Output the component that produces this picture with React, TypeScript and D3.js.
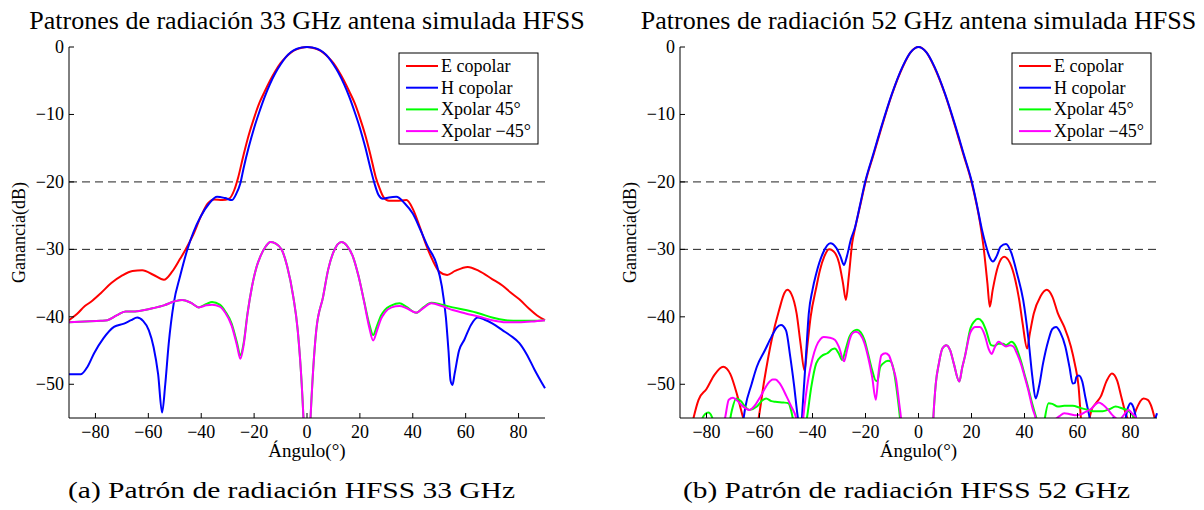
import React from 'react';
import * as d3 from 'd3';

type Pt = [number, number];

const SERIES_NAMES = ['E copolar', 'H copolar', 'Xpolar 45°', 'Xpolar \u221245°'];
const SERIES_COLORS = ['#ff0000', '#0000ff', '#00ff00', '#ff00ff'];
const X_TICKS = [-80, -60, -40, -20, 0, 20, 40, 60, 80];
const Y_TICKS = [0, -10, -20, -30, -40, -50];
const REF_LINES = [-20, -30];

// ---- 33 GHz ----
const E33: Pt[] = [[-90,-40.5],[-87,-39.6],[-84,-38.4],[-81.8,-37.8],[-78,-36.5],[-74,-35],[-70,-33.9],[-66,-33.2],[-62.3,-33.1],[-58,-33.8],[-54.1,-34.5],[-51,-33.3],[-48,-31.4],[-46,-30.1],[-43,-27.8],[-40,-25.0],[-37.5,-23.2],[-35,-22.6],[-32,-22.7],[-29.5,-22.5],[-27.5,-21.2],[-26,-19.3],[-24,-16.0],[-22,-13.0],[-20,-10.5],[-18,-8.3],[-16,-6.6],[-14,-5.0],[-12,-3.6],[-10,-2.4],[-8,-1.5],[-6,-0.8],[-4,-0.35],[-2,-0.1],[0,0],[2,-0.1],[4,-0.35],[6,-0.8],[8,-1.5],[10,-2.4],[12,-3.6],[14,-5.0],[16,-6.6],[18,-8.3],[20,-10.5],[22,-13.0],[24,-16.0],[26,-19.3],[27.5,-21.0],[29,-22.3],[31,-22.8],[34,-22.8],[37.6,-22.7],[40,-24],[42.5,-26.5],[45,-29.3],[47.5,-31.6],[50,-33.3],[53,-33.8],[56,-33.2],[60.8,-32.6],[65,-33.2],[70,-34.4],[74,-35.4],[77,-36.4],[80.3,-37.4],[84,-38.8],[87,-39.8],[90,-40.5]];
const H33: Pt[] = [[-90,-48.5],[-85.5,-48.5],[-83,-47.4],[-80.5,-45.4],[-77,-43.2],[-73,-41.5],[-69.2,-41],[-66.5,-40.5],[-64.2,-40.1],[-62,-40.6],[-59.8,-42],[-58,-44.5],[-56.3,-48.5],[-54.8,-54.2],[-53.6,-50],[-52.3,-44],[-50.4,-38],[-48,-34],[-45.3,-30.1],[-43,-27.5],[-40.3,-25.2],[-37,-23.2],[-34,-22.2],[-31,-22.4],[-28.4,-22.7],[-26.8,-21.8],[-25.2,-20.2],[-24,-18],[-22,-14.8],[-20,-12],[-18,-9.6],[-16,-7.4],[-14,-5.5],[-12,-3.9],[-10,-2.6],[-8,-1.5],[-6,-0.75],[-4,-0.3],[-2,-0.07],[0,0],[2,-0.07],[4,-0.3],[6,-0.75],[8,-1.5],[10,-2.6],[12,-3.9],[14,-5.5],[16,-7.4],[18,-9.6],[20,-12],[22,-14.8],[24,-18],[25.5,-20.2],[27,-21.9],[28.7,-22.5],[31,-22.3],[33.8,-22.2],[37,-23.2],[40,-24.7],[43,-27.2],[45.7,-29.6],[48.9,-32.1],[51,-35.5],[52.5,-40],[53.5,-45],[54.3,-49.5],[55,-50.1],[55.8,-48.5],[57.5,-45],[59.5,-43.4],[62,-41.2],[64.5,-40.1],[67,-40.4],[70.2,-41],[74,-42],[77,-42.8],[80.3,-43.9],[83,-45.5],[86,-47.8],[90,-50.6]];
const X45_33: Pt[] = [[-90,-40.8],[-84,-40.7],[-78,-40.6],[-75.5,-40.5],[-72,-39.8],[-68.6,-39.2],[-65,-39.2],[-62.9,-39.1],[-58,-38.7],[-54.1,-38.3],[-50,-37.7],[-47.2,-37.5],[-44,-37.9],[-40.9,-38.6],[-38,-38.1],[-35.9,-37.8],[-33,-38.2],[-30.9,-39.2],[-28.5,-41],[-26.5,-43.8],[-25.2,-45.7],[-24,-44],[-22.5,-39.5],[-20.8,-35.5],[-19,-32.5],[-17.7,-31.1],[-15.5,-29.5],[-13.9,-28.9],[-12,-29.1],[-9.5,-30.1],[-7.5,-32.5],[-5.2,-37],[-3.5,-42],[-2,-50],[-1,-58],[0,-70],[1,-58],[2,-50],[3.5,-42],[6.1,-37],[8,-33],[10,-30.4],[13.1,-28.9],[15,-29.4],[17.4,-31.1],[19.5,-34],[21.5,-37.5],[23.5,-41],[25,-42.7],[26.5,-41.3],[28,-39.8],[29.4,-39.0],[32,-38.3],[35,-38.0],[37.5,-38.5],[41.3,-39.4],[44,-38.6],[47,-37.9],[51,-38.2],[55.1,-38.6],[60,-39],[65.2,-39.5],[70,-40.1],[75.2,-40.5],[80,-40.6],[85,-40.6],[90,-40.5]];
const XM45_33: Pt[] = [[-90,-40.8],[-84,-40.7],[-78,-40.6],[-75.5,-40.5],[-72,-39.8],[-68.6,-39.2],[-65,-39.2],[-62.9,-39.1],[-58,-38.7],[-54.1,-38.3],[-50,-37.7],[-47.2,-37.5],[-44,-37.9],[-40.9,-38.6],[-38,-38.3],[-35.9,-38.2],[-33,-38.5],[-30.9,-39.4],[-28.5,-41.3],[-26.5,-44.2],[-25.2,-46.2],[-24,-44.3],[-22.5,-39.6],[-20.8,-35.5],[-19,-32.5],[-17.7,-31.1],[-15.5,-29.5],[-13.9,-28.9],[-12,-29.1],[-9.5,-30.1],[-7.5,-32.5],[-5.2,-37],[-3.5,-42],[-2,-50],[-1,-58],[0,-70],[1,-58],[2,-50],[3.5,-42],[6.1,-37],[8,-33],[10,-30.4],[13.1,-28.9],[15,-29.4],[17.4,-31.1],[19.5,-34],[21.5,-37.6],[23.5,-41.5],[25,-43.5],[26.5,-42],[28,-40.3],[29.4,-39.4],[32,-38.6],[35,-38.4],[37.5,-38.7],[41.3,-39.4],[44,-38.7],[47,-38.0],[51,-38.4],[55.1,-39.0],[60,-39.5],[65.2,-40],[70,-40.5],[75.2,-40.8],[80,-40.8],[85,-40.7],[90,-40.5]];

// ---- 52 GHz ----
const E52: Pt[] = [[-90,-62],[-86.5,-58],[-84.9,-55],[-83,-52.3],[-80,-50.7],[-77,-48.6],[-73.7,-47.4],[-71,-48.5],[-68.5,-51.5],[-66.5,-54.5],[-64.5,-57],[-62.5,-58],[-60.8,-56],[-58.2,-49.4],[-55.4,-43.4],[-52.6,-39],[-50.5,-36.4],[-49.5,-36],[-48,-36.6],[-46,-39.5],[-44.5,-44],[-43,-48],[-42,-44.5],[-40.7,-40],[-38.5,-35.5],[-37.2,-33.1],[-35.5,-31],[-33.7,-30],[-32,-30.3],[-30,-32],[-28.5,-35],[-27.4,-37.5],[-26.3,-34],[-25,-29],[-24,-27],[-22,-23.5],[-20,-20],[-17,-16],[-14,-12],[-10,-7],[-6,-3],[-3,-0.8],[0,0],[3,-0.8],[6,-3],[10,-7],[14,-12],[17,-16],[20,-20],[22,-23.5],[23.2,-26],[24.5,-29.5],[26,-35],[26.9,-38.5],[28,-36],[30,-32.5],[32.3,-31.1],[34.5,-32],[36.5,-34.5],[38,-37.5],[39.3,-41],[41,-44.7],[42,-42.5],[43.5,-39.5],[46,-37],[48.4,-36],[50.5,-37],[52.6,-39.5],[55,-41.5],[57.5,-44.4],[59,-47],[60.4,-50.3],[61.5,-56],[62.5,-58],[64,-56],[65.3,-53.8],[67,-52.8],[68.8,-51.8],[71,-49.5],[73,-48.4],[75,-49.5],[76.5,-51.8],[78.6,-54.8],[80,-55.5],[81,-55],[82.1,-53.8],[84.9,-52.1],[86.5,-52.3],[87.7,-53.1],[89.1,-55],[90,-56.5]];
const H52: Pt[] = [[-90,-60],[-70,-60],[-67,-57],[-66,-55],[-65.3,-53.3],[-63,-50],[-61,-47.4],[-58,-45],[-55.4,-42.9],[-53.5,-41.6],[-51.9,-41.2],[-50,-42],[-48.4,-45.9],[-47,-50],[-45.5,-55],[-44.5,-57],[-43.5,-52],[-42.5,-46],[-41.4,-39.5],[-40,-36],[-38.6,-33.6],[-36,-30.5],[-33.3,-29.1],[-31,-29.8],[-29.5,-31],[-28.1,-32.3],[-27,-31],[-25.5,-28.5],[-24,-26.8],[-22,-23.3],[-20,-19.8],[-17,-15.8],[-14,-11.8],[-10,-6.9],[-6,-2.9],[-3,-0.8],[0,0],[3,-0.8],[6,-2.9],[10,-6.9],[14,-11.8],[17,-15.8],[20,-19.8],[22,-23.3],[23.9,-27],[25.5,-29.5],[27,-31.3],[28.1,-31.8],[29.5,-31],[31,-29.6],[33,-29.2],[35,-30.5],[37.2,-33.6],[39.5,-37.5],[41.4,-43],[43,-49],[44.2,-52.1],[45.5,-50.3],[47,-46.9],[49,-43.5],[50.5,-41.8],[51.9,-41.5],[53.5,-42.3],[55.4,-44.4],[57,-47.5],[58.2,-49.9],[59,-49.8],[59.6,-48.9],[60.5,-48.7],[61.8,-49.6],[63,-52],[64.6,-55],[66,-58],[70,-60],[72.5,-57],[73.7,-54.8],[75,-57],[77,-57],[79,-53.5],[80,-52.8],[81,-53.3],[82.1,-55],[84,-58],[87,-58],[89,-55.5],[90,-54.3]];
const X45_52: Pt[] = [[-90,-60],[-83,-57],[-82,-55.5],[-80.5,-54.4],[-79.3,-54.2],[-78,-54.8],[-77,-56],[-75,-58],[-72,-57],[-70.5,-54],[-68.8,-52.1],[-67,-52.5],[-65.5,-53.3],[-63.9,-53.8],[-61,-53.3],[-59,-52.4],[-57.5,-52.1],[-55.5,-52.5],[-54,-52.6],[-51,-52.7],[-49.1,-52.8],[-48,-54],[-47,-56],[-45,-60],[-43,-57],[-42.1,-55],[-40.5,-50.5],[-38.6,-46.9],[-36.5,-45.8],[-34.4,-45.4],[-32.5,-44.8],[-31.6,-44.7],[-30,-45.5],[-28.8,-46.4],[-27.5,-44.8],[-26,-42.9],[-24.5,-42.1],[-23.2,-41.9],[-21.8,-42.3],[-20.4,-43.4],[-19,-45.5],[-17.5,-47.9],[-16,-49.5],[-15.4,-49.4],[-14.5,-47.5],[-13.3,-46.9],[-11.5,-46.5],[-10.5,-46.6],[-9.3,-48],[-8.4,-50.3],[-7,-55],[-6,-60],[-3,-70],[0,-70],[3,-70],[5,-60],[5.6,-55],[6.5,-50],[7.7,-46.9],[9,-44.7],[10.5,-44.2],[12,-45],[13.3,-46.9],[15.4,-49.6],[16.5,-47.5],[17.5,-45.9],[19.6,-41.7],[21,-40.7],[22.5,-40.3],[24,-40.7],[25.5,-42],[27.4,-44.2],[28.5,-44.3],[30.2,-44],[32,-44],[33,-44.2],[35.1,-43.7],[36.5,-44.2],[38.6,-46.5],[40,-48.5],[41.4,-50.5],[43,-53],[44.5,-55],[45.6,-56],[47,-57],[47.7,-55],[49.1,-52.8],[50.5,-52.9],[52.6,-53.3],[55,-53.2],[58.2,-53.2],[61,-53.5],[63.9,-53.8],[66,-54],[69.5,-54],[72,-53.7],[74.4,-53.3],[77,-53.6],[79.3,-54],[81.4,-55],[83,-57],[90,-60]];
const XM45_52: Pt[] = [[-90,-60],[-76,-58],[-73,-55],[-71.6,-52.3],[-70,-52],[-68.8,-52.3],[-66.5,-53.2],[-63.9,-53.8],[-61.5,-53],[-59.6,-51.8],[-57,-50],[-55,-49.3],[-54,-49.3],[-52.5,-49.8],[-49.8,-51.8],[-48,-53.3],[-46.3,-54.8],[-45,-57],[-44,-57],[-43.5,-55],[-41.5,-49],[-40,-46.2],[-38.6,-44.4],[-37,-43.3],[-35.8,-43],[-33.5,-43.1],[-31.6,-43.4],[-30,-44.5],[-28.1,-46.6],[-27,-45],[-26,-43.4],[-24.8,-42.4],[-23.6,-42.2],[-22,-42.6],[-20.4,-43.9],[-19,-46],[-17.5,-48.9],[-16.1,-52.3],[-15,-48],[-14,-45.7],[-12.5,-45.4],[-11.2,-45.7],[-9.8,-47.3],[-8.4,-49.4],[-7.4,-52.5],[-6.6,-55],[-5.5,-60],[-3,-70],[0,-70],[3,-70],[5,-60],[5.6,-55],[6.5,-50],[7.7,-46.9],[9,-44.7],[10.5,-44.2],[12,-45],[13.3,-46.9],[15.4,-49.6],[16.5,-47.5],[17.5,-45.9],[19.6,-42.3],[21.5,-41.5],[23.2,-41.5],[25,-42.7],[26.5,-44.8],[27.6,-45.5],[28.8,-44.5],[30.2,-43.7],[31.5,-44],[33,-44.4],[34.5,-44.2],[35.8,-44.4],[37.2,-45.5],[38.6,-46.9],[40,-48.8],[41.4,-50.8],[43,-53.5],[44.2,-55],[46,-58],[49,-58],[51.2,-55.5],[53.3,-54.7],[55,-54.3],[56.8,-54.4],[59,-54.6],[61,-54.5],[63,-54.1],[65.3,-53.6],[67,-52.9],[68,-52.7],[69.5,-53],[71.6,-53.8],[73,-54.5],[74.4,-55],[75.5,-55.5],[77,-54.8],[79.3,-53.8],[80.5,-54.3],[82.1,-55],[84,-57],[90,-60]];

const SERIF = '"Liberation Serif", "Times New Roman", serif';

interface PanelProps {
  id: string;
  x0: number;
  x1: number;
  title: string;
  caption: string;
  captionX: number;
  legendX: number;
  series: Pt[][];
}

const TOP = 47;
const BOTTOM = 418;

function Panel({ id, x0, x1, title, caption, captionX, legendX, series }: PanelProps) {
  const x = d3.scaleLinear().domain([-90, 90]).range([x0, x1]);
  const y = d3.scaleLinear().domain([-55, 0]).range([BOTTOM, TOP]);
  const line = d3.line<Pt>().x(d => x(d[0])).y(d => y(d[1])).curve(d3.curveMonotoneX);
  const cx = (x0 + x1) / 2;
  const tick = 5;
  return (
    <g>
      <defs>
        <clipPath id={`clip-${id}`}>
          <rect x={x0} y={TOP - 2} width={x1 - x0 + 2} height={BOTTOM - TOP + 2} />
        </clipPath>
      </defs>
      {REF_LINES.map(v => (
        <line key={v} x1={x0} x2={x1} y1={y(v)} y2={y(v)} stroke="#222" strokeWidth={1} strokeDasharray="8,5" />
      ))}
      <g clipPath={`url(#clip-${id})`}>
        {series.map((s, i) => (
          <path key={i} d={line(s) || ''} fill="none" stroke={SERIES_COLORS[i]} strokeWidth={2} strokeLinejoin="round" />
        ))}
      </g>
      <line x1={x0} x2={x0} y1={TOP} y2={BOTTOM} stroke="#000" strokeWidth={1} />
      <line x1={x0} x2={x1} y1={BOTTOM} y2={BOTTOM} stroke="#000" strokeWidth={1} />
      {Y_TICKS.map(v => (
        <g key={v}>
          <line x1={x0} x2={x0 + tick} y1={y(v)} y2={y(v)} stroke="#000" />
          <text x={x0 - 5} y={y(v)} textAnchor="end" dominantBaseline="central" fontSize={18} fontFamily={SERIF}>
            {v < 0 ? `\u2212${-v}` : `${v}`}
          </text>
        </g>
      ))}
      {X_TICKS.map(v => (
        <g key={v}>
          <line x1={x(v)} x2={x(v)} y1={BOTTOM} y2={BOTTOM - tick} stroke="#000" />
          <text x={x(v)} y={438} textAnchor="middle" fontSize={18} fontFamily={SERIF}>
            {v < 0 ? `\u2212${-v}` : `${v}`}
          </text>
        </g>
      ))}
      <text x={cx} y={29} textAnchor="middle" fontSize={26} fontFamily={SERIF}>{title}</text>
      <text x={cx} y={457} textAnchor="middle" fontSize={19} fontFamily={SERIF}>Ángulo(°)</text>
      <text transform={`translate(${x0 - 50},${(TOP + BOTTOM) / 2}) rotate(-90)`} textAnchor="middle" dominantBaseline="central" fontSize={18} fontFamily={SERIF}>Ganancia(dB)</text>
      <text x={captionX} y={498} fontSize={24} fontFamily={SERIF} textLength={447} lengthAdjust="spacingAndGlyphs">{caption}</text>
      <g>
        <rect x={legendX} y={53} width={139} height={91} fill="#fff" stroke="#000" strokeWidth={1} />
        {SERIES_NAMES.map((n, i) => {
          const ly = 66 + i * 21.7;
          return (
            <g key={n}>
              <line x1={legendX + 7} x2={legendX + 39} y1={ly} y2={ly} stroke={SERIES_COLORS[i]} strokeWidth={2} />
              <text x={legendX + 42} y={ly} dominantBaseline="central" fontSize={18} fontFamily={SERIF}>{n}</text>
            </g>
          );
        })}
      </g>
    </g>
  );
}

export default function App() {
  return (
    <svg width={1204} height={510} style={{ position: 'absolute', left: 0, top: 0, background: '#fff' }}>
      <rect x={0} y={0} width={1204} height={510} fill="#fff" />
      <Panel id="a" x0={69} x1={545} title="Patrones de radiación 33 GHz antena simulada HFSS"
        caption="(a) Patrón de radiación HFSS 33 GHz" captionX={68} legendX={399}
        series={[E33, H33, X45_33, XM45_33]} />
      <Panel id="b" x0={680} x1={1157} title="Patrones de radiación 52 GHz antena simulada HFSS"
        caption="(b) Patrón de radiación HFSS 52 GHz" captionX={683} legendX={1012}
        series={[E52, H52, X45_52, XM45_52]} />
    </svg>
  );
}
